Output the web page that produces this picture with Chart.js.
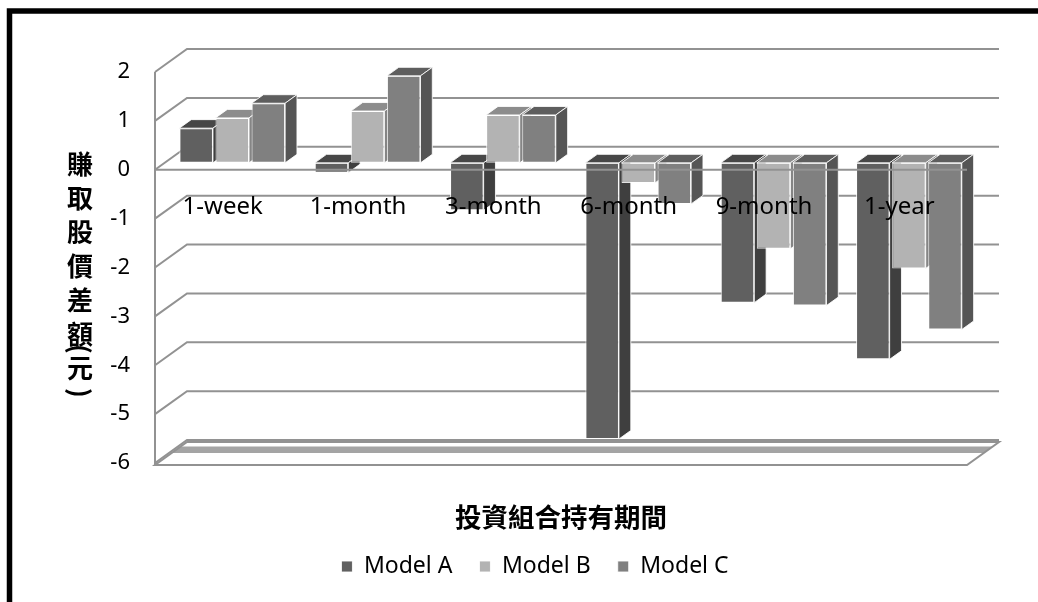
<!DOCTYPE html>
<html>
<head>
<meta charset="utf-8">
<script src="https://cdn.jsdelivr.net/npm/chart.js@4.4.1/dist/chart.umd.min.js"></script>
<style>
  html, body { margin: 0; padding: 0; background: #fff; }
  #wrap { width: 1038px; height: 602px; }
</style>
</head>
<body>
<div id="wrap"><canvas id="c" width="1038" height="602"></canvas></div>
<script>
// ---- data ----
const categories = ['1-week', '1-month', '3-month', '6-month', '9-month', '1-year'];
const seriesNames = ['Model A', 'Model B', 'Model C'];
const modelA = [0.71, -0.20, -0.97, -5.65, -2.86, -4.02];
const modelB = [0.92, 1.06, 0.98, -0.41, -1.76, -2.16];
const modelC = [1.22, 1.78, 0.98, -0.84, -2.92, -3.41];
const yTickValues = [2, 1, 0, -1, -2, -3, -4, -5, -6];
const xTitle = '投資組合持有期間';
const yTitleChars = ['賺', '取', '股', '價', '差', '額', '(', '元', ')'];

// ---- style ----
const frontColors = ['#606060', '#b3b3b3', '#808080'];
const topColors = ['#474747', '#8c8c8c', '#5e5e5e'];
const sideColors = ['#3f3f3f', '#858585', '#555555'];
const gridColor = '#929292';
const D = { x: 32, y: -23 };          // full depth vector of the 3D box
const barOffset = 0.30;               // bars' front plane (fraction of depth)
const barDepth = 0.37;                // bars' thickness (fraction of depth)
const cjk = '"Noto Sans CJK TC", "Noto Sans CJK SC", sans-serif';
const latin = '"Noto Sans", "Open Sans", sans-serif';

function poly(ctx, pts, fill, stroke) {
  ctx.beginPath();
  ctx.moveTo(pts[0][0], pts[0][1]);
  for (let i = 1; i < pts.length; i++) ctx.lineTo(pts[i][0], pts[i][1]);
  ctx.closePath();
  if (fill) { ctx.fillStyle = fill; ctx.fill(); }
  if (stroke) { ctx.strokeStyle = stroke; ctx.lineWidth = 1; ctx.stroke(); }
}

const threeD = {
  id: 'threeD',
  beforeDraw(chart) {
    const ctx = chart.ctx;
    ctx.save();
    ctx.fillStyle = '#fff';
    ctx.fillRect(0, 0, chart.width, chart.height);
    // outer frame (only top/left edges inside the picture)
    ctx.strokeStyle = '#000';
    ctx.lineWidth = 5.5;
    ctx.strokeRect(9.5, 11, 1200, 800);
    // vertical stacked y title
    ctx.fillStyle = '#000';
    ctx.font = 'bold 26px ' + cjk;
    ctx.textAlign = 'center';
    ctx.textBaseline = 'middle';
    const cx = 80;
    const adv = [34, 34, 34, 34, 34, 15, 19, 25];
    let y = 164;
    yTitleChars.forEach((ch, i) => {
      if (ch === '(' || ch === ')') {
        ctx.save();
        ctx.translate(cx, y);
        ctx.rotate(Math.PI / 2);
        ctx.fillText(ch, 0, 0);
        ctx.restore();
      } else {
        ctx.fillText(ch, cx, y);
      }
      y += adv[i] || 0;
    });
    ctx.restore();
  },
  beforeDatasetsDraw(chart) {
    const ctx = chart.ctx;
    const ys = chart.scales.y;
    const L = chart.chartArea.left, R = chart.chartArea.right;
    ctx.save();
    ctx.lineCap = 'butt';
    // left wall & back wall grid lines
    ctx.strokeStyle = gridColor;
    ctx.lineWidth = 2;
    yTickValues.forEach(v => {
      const fy = ys.getPixelForValue(v);
      ctx.beginPath();
      ctx.moveTo(L, fy);
      ctx.lineTo(L + D.x, fy + D.y);
      ctx.lineTo(R + D.x, fy + D.y);
      ctx.stroke();
    });
    // front-left vertical edge
    const topY = ys.getPixelForValue(yTickValues[0]);
    const botY = ys.getPixelForValue(yTickValues[yTickValues.length - 1]);
    ctx.beginPath();
    ctx.moveTo(L, topY);
    ctx.lineTo(L, botY + 2);
    ctx.stroke();
    // floor
    const fb = botY + 2;
    const s0 = 0.52, s1 = 0.80;
    poly(ctx, [[L + D.x * s0, fb + D.y * s0], [R + D.x * s0, fb + D.y * s0],
               [R + D.x * s1, fb + D.y * s1], [L + D.x * s1, fb + D.y * s1]], '#a4a4a4', null);
    ctx.strokeStyle = gridColor;
    ctx.lineWidth = 2;
    ctx.beginPath();
    ctx.moveTo(L, fb);
    ctx.lineTo(R, fb);
    ctx.lineTo(R + D.x, fb + D.y);
    ctx.lineTo(L + D.x, fb + D.y);
    ctx.closePath();
    ctx.stroke();

    // bars, painted category by category, series by series
    ctx.translate(D.x * barOffset, D.y * barOffset);
    const tx = D.x * barDepth, ty = D.y * barDepth;
    const metas = chart.data.datasets.map((d, i) => chart.getDatasetMeta(i));
    for (let c = 0; c < categories.length; c++) {
      metas.forEach((meta, s) => {
        const el = meta.data[c];
        if (!el) return;
        const p = el.getProps(['x', 'y', 'base', 'width'], true);
        const left = p.x - p.width / 2, right = p.x + p.width / 2;
        const top = Math.min(p.y, p.base), bottom = Math.max(p.y, p.base);
        el.draw(ctx, chart.chartArea);
        // top face
        poly(ctx, [[left, top], [right, top], [right + tx, top + ty], [left + tx, top + ty]],
             topColors[s], 'rgba(255,255,255,0.85)');
        // right side face
        poly(ctx, [[right, top], [right + tx, top + ty], [right + tx, bottom + ty], [right, bottom]],
             sideColors[s], 'rgba(255,255,255,0.85)');
      });
    }
    ctx.restore();
    return false;
  },
  afterDraw(chart) {
    const ctx = chart.ctx;
    const ys = chart.scales.y;
    const xs = chart.scales.x;
    const L = chart.chartArea.left, R = chart.chartArea.right;
    ctx.save();
    // front zero line over the bars
    const y0 = ys.getPixelForValue(0);
    ctx.strokeStyle = gridColor;
    ctx.lineWidth = 2;
    ctx.beginPath();
    ctx.moveTo(L, y0);
    ctx.lineTo(R, y0);
    ctx.stroke();
    // category labels
    ctx.fillStyle = '#000';
    ctx.font = '24px ' + latin;
    ctx.textAlign = 'center';
    ctx.textBaseline = 'middle';
    categories.forEach((lab, i) => {
      ctx.fillText(lab, xs.getPixelForValue(i), y0 + 37);
    });
    ctx.restore();
  }
};

new Chart(document.getElementById('c'), {
  type: 'bar',
  data: {
    labels: categories,
    datasets: [modelA, modelB, modelC].map((vals, i) => ({
      label: seriesNames[i],
      data: vals,
      backgroundColor: frontColors[i],
      borderColor: 'rgba(255,255,255,0.85)',
      borderWidth: 1,
      borderSkipped: false,
      categoryPercentage: 0.8,
      barPercentage: 0.93
    }))
  },
  options: {
    responsive: false,
    animation: false,
    devicePixelRatio: 1,
    layout: { padding: { left: 32, right: 0, top: 72, bottom: 14 } },
    plugins: {
      legend: {
        position: 'bottom',
        labels: {
          boxWidth: 11, boxHeight: 11, padding: 27, color: '#000',
          font: { size: 23, family: latin }
        }
      },
      tooltip: { enabled: false }
    },
    scales: {
      x: {
        grid: { display: false },
        border: { display: false },
        ticks: { display: false },
        title: {
          display: true, text: xTitle, color: '#000',
          font: { size: 26.5, weight: 'bold', family: cjk, lineHeight: 0.8 },
          padding: { top: 0, bottom: 0 }
        },
        afterFit(s) { s.height = 65; }
      },
      y: {
        min: -6, max: 2,
        grid: { display: false, drawTicks: false },
        border: { display: false },
        ticks: {
          stepSize: 1, color: '#000', padding: 25,
          font: { size: 22, family: latin }
        },
        afterFit(s) { s.width = 123; }
      },
      y2: {
        position: 'right',
        grid: { display: false, drawTicks: false },
        border: { display: false },
        ticks: { display: false },
        afterFit(s) { s.width = 71; }
      }
    }
  },
  plugins: [threeD]
});
</script>
</body>
</html>
